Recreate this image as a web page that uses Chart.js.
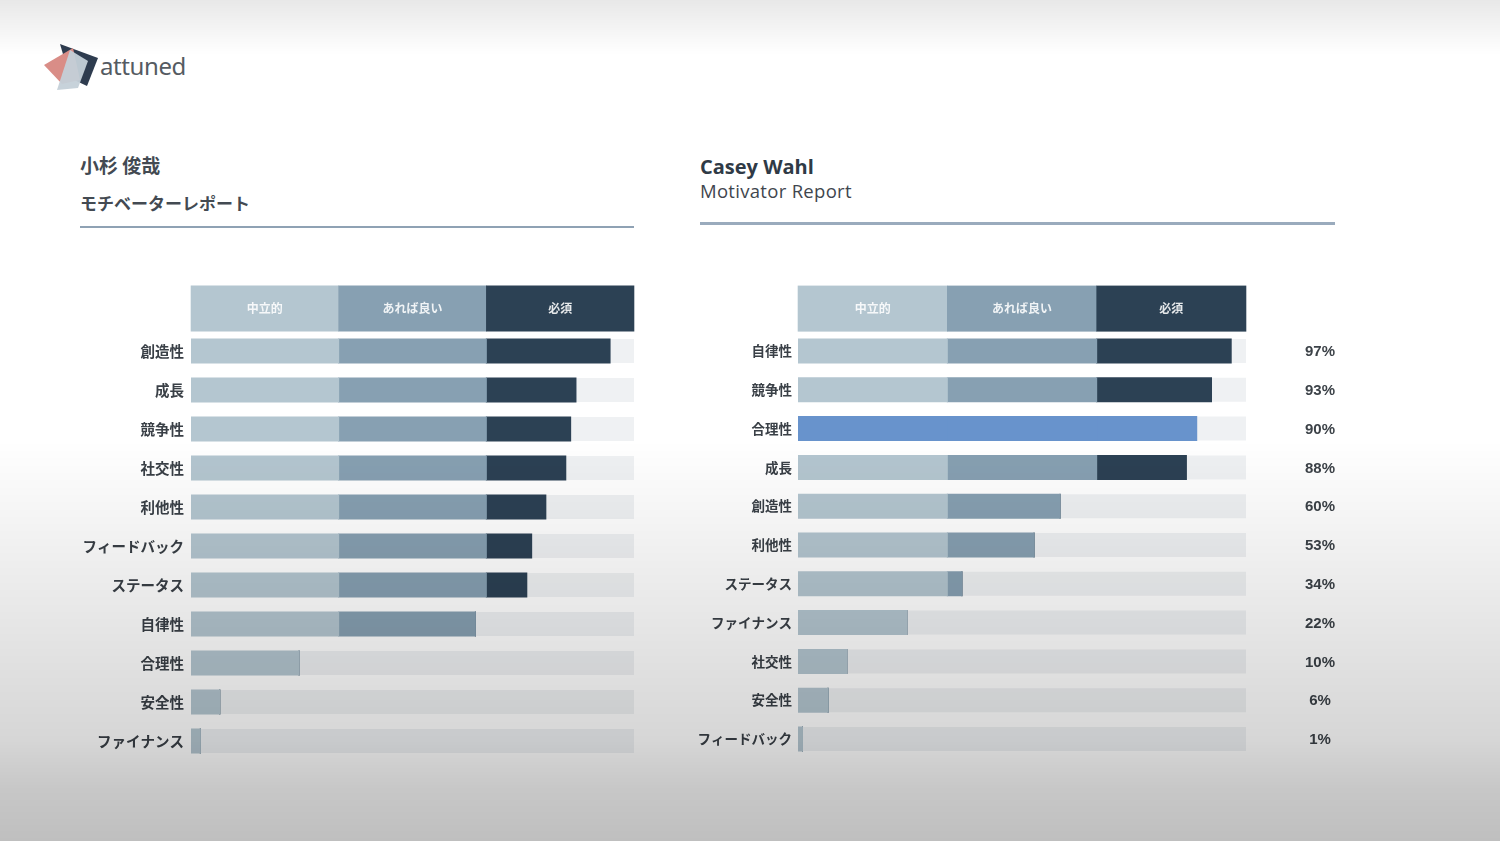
<!DOCTYPE html>
<html>
<head>
<meta charset="utf-8">
<script src="https://cdn.jsdelivr.net/npm/chart.js@4.4.1/dist/chart.umd.min.js"></script>
<style>
  html, body { margin:0; padding:0; }
  body { width:1500px; height:841px; position:relative; overflow:hidden; background:#ffffff; font-family:"Noto Sans CJK JP","Noto Sans",sans-serif; }
  .abs { position:absolute; }
  #shade { left:0; top:0; width:1500px; height:841px; pointer-events:none;
    background:linear-gradient(to bottom, rgba(0,0,0,0.09) 0px, rgba(0,0,0,0.0) 55px, rgba(0,0,0,0.0) 440px, rgba(0,0,0,0.16) 740px, rgba(0,0,0,0.22) 790px, rgba(0,0,0,0.25) 841px); }
  .ttl-jp { color:#434a52; font-weight:700; font-family:"Noto Sans CJK JP"; }
  .rule { height:3px; background:#8fa2b4; }
</style>
</head>
<body>
<svg class="abs" style="left:40px;top:40px" width="64" height="56" viewBox="0 0 64 56">
  <polygon points="20,4 58,18 47,46 30,38" fill="#2e3c4f"/>
  <polygon points="4,25 33,8 40,40 22,44" fill="#d98d87"/>
  <polygon points="30,10 48,21 38,48 17,50" fill="#c4d0d8" opacity="0.95"/>
</svg>
<div class="abs" style="left:100px;top:51px;font-family:'Noto Sans';font-size:24px;color:#555b62;letter-spacing:-0.4px;line-height:30px;">attuned</div>

<div class="abs ttl-jp" style="left:80px;top:152px;font-size:19px;line-height:26px;">小杉 俊哉</div>
<div class="abs ttl-jp" style="left:80px;top:190px;font-size:17px;line-height:26px;">モチベーターレポート</div>
<div class="abs rule" style="left:80px;top:226px;width:554px;height:2px;"></div>

<div class="abs" style="left:700px;top:153px;font-family:'Open Sans';font-weight:700;font-size:20px;color:#2f3a46;line-height:28px;">Casey Wahl</div>
<div class="abs" style="left:700px;top:178px;font-family:'Open Sans';font-weight:400;font-size:18.5px;color:#3f464e;line-height:26px;letter-spacing:0.3px;">Motivator Report</div>
<div class="abs rule" style="left:700px;top:222px;width:635px;background:#9aabbd;"></div>

<div class="abs" style="left:40px;top:270px;width:620px;height:510px;"><canvas id="leftChart"></canvas></div>
<div class="abs" style="left:660px;top:270px;width:720px;height:510px;"><canvas id="rightChart"></canvas></div>

<div id="shade" class="abs"></div>

<script>
// ---- data ----
const headerLabels = ['中立的', 'あれば良い', '必須'];
const bandEdges = [0, 33.33, 66.67, 100];

const leftCategories = ['創造性', '成長', '競争性', '社交性', '利他性', 'フィードバック', 'ステータス', '自律性', '合理性', '安全性', 'ファイナンス'];
const leftValues = [94.6, 86.9, 85.7, 84.6, 80.1, 76.9, 75.8, 64.2, 24.4, 6.5, 2.1];

const rightCategories = ['自律性', '競争性', '合理性', '成長', '創造性', '利他性', 'ステータス', 'ファイナンス', '社交性', '安全性', 'フィードバック'];
const rightValues = [96.7, 92.3, 89.0, 86.7, 58.5, 52.7, 36.6, 24.3, 10.9, 6.7, 1.0];
const rightPercentLabels = ['97%', '93%', '90%', '88%', '60%', '53%', '34%', '22%', '10%', '6%', '1%'];
const rightHighlight = ['合理性'];

// ---- styles ----
const C_LIGHT = '#b4c6d0', C_MID = '#87a0b2', C_DARK = '#2c4154', C_TRACK = '#eff1f3', C_HI = '#6893cc';
const HEAD_COLORS = ['#b4c6d0', '#87a0b2', '#2c4154'];

function segments(values) {
  const s1 = [], s2 = [], s3 = [], rest = [];
  values.forEach(v => {
    s1.push(Math.min(v, bandEdges[1]));
    s2.push(Math.max(0, Math.min(v, bandEdges[2]) - bandEdges[1]));
    s3.push(Math.max(0, v - bandEdges[2]));
    rest.push(Math.max(0, bandEdges[3] - v));
  });
  return [s1, s2, s3, rest];
}

const headerPlugin = {
  id: 'headerBand',
  afterDraw(chart, args, opts) {
    const ctx = chart.ctx, x = chart.scales.x, area = chart.chartArea;
    const top = area.top - opts.height, h = opts.height;
    ctx.save();
    for (let i = 0; i < 3; i++) {
      const x0 = x.getPixelForValue(bandEdges[i]), x1 = x.getPixelForValue(bandEdges[i + 1]);
      ctx.fillStyle = HEAD_COLORS[i];
      ctx.fillRect(x0 - 0.3, top, x1 - x0 + 0.6, h);
      ctx.fillStyle = 'rgba(255,255,255,0.88)';
      ctx.font = '700 12px "Noto Sans CJK JP"';
      ctx.textAlign = 'center';
      ctx.textBaseline = 'middle';
      ctx.fillText(headerLabels[i], (x0 + x1) / 2, top + h / 2);
    }
    if (opts.percents) {
      const y = chart.scales.y;
      ctx.fillStyle = '#3c4248';
      ctx.font = '700 15px "Liberation Sans"';
      ctx.textAlign = 'center';
      ctx.textBaseline = 'middle';
      opts.percents.forEach((t, i) => ctx.fillText(t, opts.percentX, y.getPixelForValue(i) + 1));
    }
    ctx.restore();
  }
};

function makeChart(id, cats, vals, cfg) {
  const [s1, s2, s3, rest] = segments(vals);
  const hi = (c) => (ctx) => (cfg.highlight && cfg.highlight.includes(cats[ctx.dataIndex])) ? C_HI : c;
  const ds = (data, color, infl) => ({ data, backgroundColor: color, borderWidth: 0, barThickness: 24, inflateAmount: infl });
  return new Chart(document.getElementById(id), {
    type: 'bar',
    data: {
      labels: cats,
      datasets: [ds(s1, hi(C_LIGHT), 0.5), ds(s2, hi(C_MID), 0.5), ds(s3, hi(C_DARK), 0.5), ds(rest, C_TRACK, 0)]
    },
    options: {
      indexAxis: 'y',
      responsive: true,
      maintainAspectRatio: false,
      animation: false,
      events: [],
      layout: { padding: cfg.padding },
      plugins: {
        legend: { display: false },
        tooltip: { enabled: false },
        headerBand: { height: 46, percents: cfg.percents, percentX: cfg.percentX }
      },
      scales: {
        x: { stacked: true, min: 0, max: 100, display: false },
        y: {
          stacked: true,
          grid: { display: false, drawTicks: false },
          border: { display: false },
          ticks: { color: '#3a4047', padding: cfg.tickPad, font: { family: 'Noto Sans CJK JP', weight: '700', size: cfg.fontSize } },
          afterFit: (s) => { s.width = cfg.yWidth; }
        }
      }
    },
    plugins: [headerPlugin]
  });
}

makeChart('leftChart', leftCategories, leftValues, {
  padding: { top: 61.5, bottom: 19.5, left: 0, right: 26 },
  yWidth: 151, tickPad: 7, fontSize: 14.5
});
makeChart('rightChart', rightCategories, rightValues, {
  padding: { top: 61.6, bottom: 21.6, left: 0, right: 134 },
  yWidth: 138, tickPad: 6, fontSize: 13.5,
  highlight: rightHighlight, percents: rightPercentLabels, percentX: 660
});
</script>
</body>
</html>
